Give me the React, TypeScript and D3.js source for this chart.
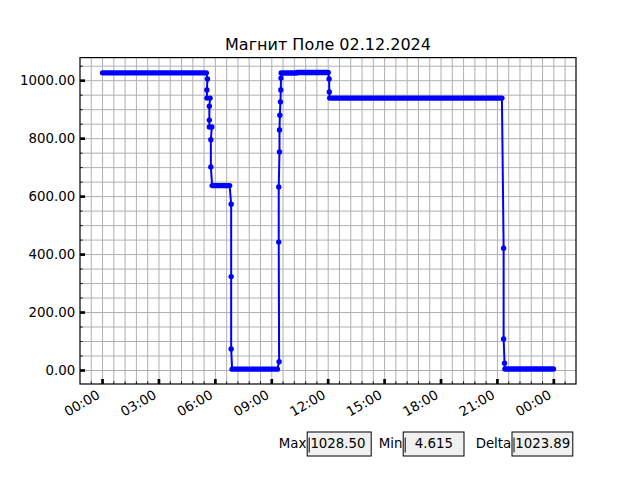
import React from 'react';
import * as d3 from 'd3';

// ---------- data (hours since 02.12.2024 00:00, field values) ----------
const TITLE = 'Магнит Поле 02.12.2024';
const DAY_START = Date.UTC(2024, 11, 2);

// dense plateaus (samples so close they form a solid band)
const plateauStart = [0.0, 5.83, 6.89, 9.5, 10.35, 12.08, 21.4];
const plateauEnd = [5.52, 6.76, 9.3, 10.3, 12.0, 21.24, 23.98];
const plateauLevel = [1027.0, 638.0, 4.615, 1026.5, 1028.5, 940.0, 5.0];

// individual samples during the transitions
const stepTimes = [
  5.58, 5.55, 5.55, 5.72, 5.68, 5.68, 5.68, 5.81, 5.76, 5.76,
  6.84, 6.84, 6.84,
  9.39, 9.37, 9.37, 9.41, 9.41, 9.43, 9.46, 9.48, 9.49,
  12.05, 12.06,
  21.33, 21.33, 21.38,
];
const stepValues = [
  1006, 968, 940, 940, 912, 864, 840, 840, 796, 702,
  574, 324, 74,
  30, 443, 633, 754, 830, 881, 927, 968, 1009,
  1006, 961,
  422, 109, 25,
];

const yTickValues = [0, 200, 400, 600, 800, 1000];
const xTickHours = [0, 3, 6, 9, 12, 15, 18, 21, 24];
const statLabels = ['Max', 'Min', 'Delta'];
const statTexts = ['1028.50', '  4.615', '1023.89'];

// ---------- layout ----------
const W = 640;
const H = 480;
const L = 80;
const R = 576;
const T = 57.6;
const B = 384;
const FONT = 'DejaVu Sans, sans-serif';
const BLUE = '#0000ff';
const boxLeft = [307.2, 403.2, 512];
const boxWidth = [64, 60.8, 60.8];
const boxTop = 432;
const boxH = 24;

const toDate = (h: number) => new Date(DAY_START + h * 3600e3);

export default function App() {
  const allT = [...plateauStart, ...plateauEnd, ...stepTimes];
  const allV = [...plateauLevel, ...stepValues];
  const [t0, t1] = d3.extent(allT) as [number, number];
  const [v0, v1] = d3.extent(allV) as [number, number];
  const dt = t1 - t0;
  const dv = v1 - v0;

  const x = d3
    .scaleUtc()
    .domain([toDate(t0 - 0.05 * dt), toDate(t1 + 0.05 * dt)])
    .range([L, R]);
  const y = d3
    .scaleLinear()
    .domain([v0 - 0.05 * dv, v1 + 0.05 * dv])
    .range([B, T]);

  // build sequence: plateau start, plateau end, then transition samples
  type P = { t: number; v: number };
  const seq: P[] = [];
  const steps: P[] = [];
  plateauStart.forEach((s, i) => {
    seq.push({ t: s, v: plateauLevel[i] });
    seq.push({ t: plateauEnd[i], v: plateauLevel[i] });
    const next = i + 1 < plateauStart.length ? plateauStart[i + 1] : Infinity;
    stepTimes.forEach((st, j) => {
      if (st >= plateauEnd[i] && st < next) {
        const p = { t: st, v: stepValues[j] };
        seq.push(p);
        steps.push(p);
      }
    });
  });

  const line = d3
    .line<P>()
    .x((d) => x(toDate(d.t)))
    .y((d) => y(d.v));

  const fmt = d3.utcFormat('%H:%M');
  const [dh0, dh1] = [t0 - 0.05 * dt, t1 + 0.05 * dt];
  const minorX = d3.range(-30, 60).map((k) => k * 0.6).filter((h) => h > dh0 + 1e-6 && h < dh1 - 1e-6);
  const [ydom0, ydom1] = y.domain();
  const minorY = d3.range(-2, 24).map((k) => k * 50).filter((v) => v > ydom0 && v < ydom1);

  return (
    <svg
      width={W}
      height={H}
      viewBox={`0 0 ${W} ${H}`}
      style={{ position: 'absolute', left: 0, top: 0, background: '#fff' }}
      fontFamily={FONT}
    >
      <rect x={0} y={0} width={W} height={H} fill="#fff" />
      {/* grid */}
      <g stroke="#b0b0b0" strokeWidth={1}>
        {minorX.map((h, i) => {
          const px = x(toDate(h));
          return <line key={'gx' + i} x1={px} x2={px} y1={T} y2={B} />;
        })}
        {minorY.map((v, i) => {
          const py = y(v);
          return <line key={'gy' + i} x1={L} x2={R} y1={py} y2={py} />;
        })}
      </g>

      {/* data */}
      <path d={line(seq) || ''} fill="none" stroke={BLUE} strokeWidth={2} strokeLinejoin="round" />
      {plateauStart.map((s, i) => (
        <line
          key={'pl' + i}
          x1={x(toDate(s))}
          x2={x(toDate(plateauEnd[i]))}
          y1={y(plateauLevel[i])}
          y2={y(plateauLevel[i])}
          stroke={BLUE}
          strokeWidth={5.4}
          strokeLinecap="round"
        />
      ))}
      {steps.map((p, i) => (
        <circle key={'m' + i} cx={x(toDate(p.t))} cy={y(p.v)} r={2.7} fill={BLUE} />
      ))}

      {/* ticks */}
      <g stroke="#000">
        {minorX.map((h, i) => {
          const px = x(toDate(h));
          return <line key={'mx' + i} x1={px} x2={px} y1={B} y2={B - 2.7} strokeWidth={0.9} />;
        })}
        {minorY.map((v, i) => {
          const py = y(v);
          return <line key={'my' + i} x1={L} x2={L + 2.7} y1={py} y2={py} strokeWidth={0.9} />;
        })}
        {xTickHours.map((h, i) => {
          const px = x(toDate(h));
          return <line key={'Mx' + i} x1={px} x2={px} y1={B} y2={B - 5} strokeWidth={2.7} />;
        })}
        {yTickValues.map((v, i) => {
          const py = y(v);
          return <line key={'My' + i} x1={L} x2={L + 5} y1={py} y2={py} strokeWidth={2.7} />;
        })}
      </g>

      {/* spines */}
      <rect x={L} y={T} width={R - L} height={B - T} fill="none" stroke="#000" strokeWidth={1.2} />

      {/* y labels */}
      {yTickValues.map((v, i) => (
        <text
          key={'yl' + i}
          x={L - 4.8}
          y={y(v) + 4.8}
          fontSize={13.33}
          textAnchor="end"
          fill="#000"
        >
          {v.toFixed(2)}
        </text>
      ))}

      {/* x labels */}
      {xTickHours.map((h, i) => {
        const px = x(toDate(h)) - 1.6;
        const py = B + 4.7 + 8.8;
        return (
          <text
            key={'xl' + i}
            transform={`translate(${px},${py}) rotate(-30)`}
            fontSize={13.33}
            textAnchor="end"
            fill="#000"
          >
            {fmt(toDate(h))}
          </text>
        );
      })}

      {/* title */}
      <text x={(L + R) / 2} y={T - 8} fontSize={16} textAnchor="middle" fill="#000">
        {TITLE}
      </text>

      {/* stat boxes */}
      {statLabels.map((lab, i) => (
        <g key={'st' + i}>
          <rect
            x={boxLeft[i]}
            y={boxTop}
            width={boxWidth[i]}
            height={boxH}
            fill="#f0f0f0"
            stroke="#000"
            strokeWidth={1}
          />
          <text
            x={boxLeft[i] - 0.8}
            y={boxTop + 16.3}
            fontSize={13.33}
            textAnchor="end"
            fill="#000"
          >
            {lab}
          </text>
          <line
            x1={boxLeft[i] + 2}
            x2={boxLeft[i] + 2}
            y1={boxTop + 5.5}
            y2={boxTop + 20.5}
            stroke="#000"
            strokeWidth={1}
          />
          <text
            x={boxLeft[i] + 3.2}
            y={boxTop + 16.3}
            fontSize={13.33}
            textAnchor="start"
            fill="#000"
            xmlSpace="preserve"
            style={{ whiteSpace: 'pre' }}
          >
            {statTexts[i]}
          </text>
        </g>
      ))}
    </svg>
  );
}
